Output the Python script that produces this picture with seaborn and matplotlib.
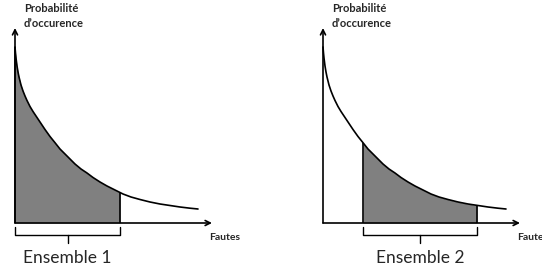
import numpy as np
import matplotlib
matplotlib.use('Agg')
import matplotlib.pyplot as plt
import seaborn as sns

# curve (distance from y axis, height above x axis)
fautes = [0, 0.5, 1, 2, 3, 4, 6, 8, 10, 12, 15, 18, 22, 26, 30, 35, 40,
          45, 50, 55, 60, 66, 72, 78, 85, 92, 100, 108, 116, 125, 135,
          145, 155, 165, 175, 183]
proba = [176, 170, 165, 157, 151, 146, 138, 132, 127, 122.5, 116.5, 111.5,
         105.5, 99.5, 93.5, 86.5, 80.3, 74, 69, 64, 59, 54, 50, 45.5, 41,
         37, 33, 29, 26, 23.5, 21, 19, 17.5, 16, 14.8, 14]

# shaded sets
sets = [(0, 105), (40, 154)]
set_labels = ['Ensemble 1', 'Ensemble 2']
y_label = 'Probabilité\nd\u2019occurence'
x_label = 'Fautes'

sns.set_style('white')
plt.rcParams['font.family'] = ['Lato', 'DejaVu Sans']

fig = plt.figure(figsize=(5.42, 2.66), dpi=100)
origins = [15, 52]

for i, (lo, hi) in enumerate(sets):
    ax = fig.add_axes([0.5 * i, 0, 0.5, 1])
    ax.set_xlim(-origins[i], 271 - origins[i])
    ax.set_ylim(-43, 223)
    ax.axis('off')

    sns.lineplot(x=fautes, y=proba, ax=ax, color='black', lw=1.2)

    xs = np.linspace(lo, hi, 200)
    ys = np.interp(xs, fautes, proba)
    ax.fill_between(xs, 0, ys, color='#808080', lw=0)
    ax.vlines([lo, hi], 0, [ys[0], ys[-1]], color='black', lw=1.2)

    # axes arrows
    arrow = dict(arrowstyle='->', lw=1.2, color='black',
                 shrinkA=0, shrinkB=0, mutation_scale=9)
    ax.annotate('', xy=(0, 195), xytext=(0, 0), arrowprops=arrow)
    ax.annotate('', xy=(197, 0), xytext=(0, 0), arrowprops=arrow)

    ax.text(9, 207, y_label, fontsize=8, fontweight='bold',
            va='center', ha='left', linespacing=1.4)
    ax.text(194, -14, x_label, fontsize=7.5, fontweight='bold',
            va='center', ha='left')

    # bracket under the set
    mid = (lo + hi) / 2
    ax.plot([lo, lo, hi, hi], [-4, -12, -12, -4], color='black', lw=1)
    ax.plot([mid, mid], [-12, -20], color='black', lw=1)
    ax.text(mid, -35, set_labels[i], fontsize=12.5, ha='center', va='center')

fig.savefig('out.png', dpi=100)
